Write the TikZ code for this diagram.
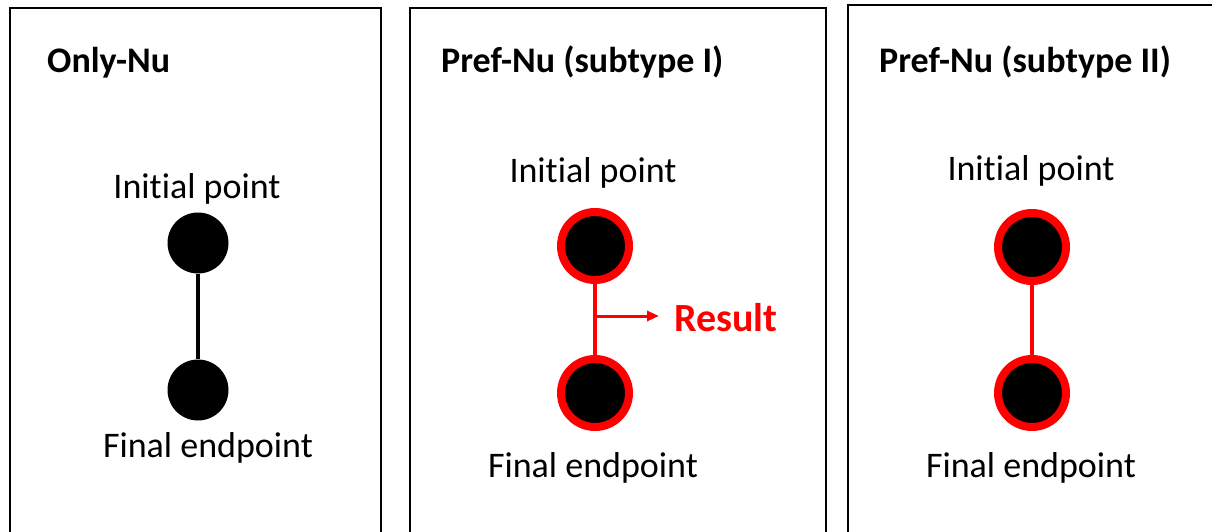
\documentclass[tikz,border=0pt]{standalone}
\usepackage{fontspec}
\setmainfont{Carlito}[RawFeature={-liga;-clig;-dlig}]
\usetikzlibrary{arrows.meta,calc}
\definecolor{hot}{RGB}{255,0,0}
\begin{document}
\begin{tikzpicture}[x=1pt,y=-1pt,
  panel/.style={draw=black,line width=1.5pt},
  title/.style={font=\fontsize{36}{43}\selectfont\bfseries,anchor=base west,inner sep=0pt},
  label/.style={font=\fontsize{36}{43}\selectfont,anchor=base,inner sep=0pt},
  dot/.style={circle,fill=black,draw=none,minimum size=61pt,inner sep=0pt},
  ringdot/.style={circle,fill=black,draw=hot,line width=8pt,minimum size=68pt,inner sep=0pt},
  link/.style={line width=3.5pt},
  redlink/.style={draw=hot,line width=3.5pt},
]
\useasboundingbox (0,0) rectangle (1212,532);
\clip (0,0) rectangle (1212,532);

% panel frames, open at the bottom edge
\draw[panel] (10,8) rectangle (381,560);
\draw[panel] (410,8) rectangle (826,560);
\draw[panel] (848,5) rectangle (1230,560);

% Only-Nu
\node[title] (t1) at (47,73) {Only-Nu};
\node[label] (i1) at (197,198) {Ini{}ti{}al point};
\node[dot] (a1) at (198,243) {};
\node[dot] (b1) at (198,390) {};
\node[label] (f1) at (208,457) {Final endpoint};
\draw[link] (a1) -- (b1);

% Pref-Nu (subtype I)
\node[title] (t2) at (441,73) {Pref-Nu (subtype I)};
\node[label] (i2) at (593,182) {Ini{}ti{}al point};
\node[ringdot] (a2) at (595,246) {};
\node[ringdot] (b2) at (595,393) {};
\node[label] (f2) at (593,477) {Final endpoint};
\draw[redlink] (a2) -- (b2);
\coordinate (m2) at (595,316);
\node[font=\fontsize{40}{48}\selectfont\bfseries,text=hot,anchor=west,inner sep=0pt] (r2) at (674,318) {Result};
\draw[redlink,line width=3pt,-{Triangle[length=12pt,width=10pt]}] (m2) -- ($(r2.west)+(-15,-2)$);

% Pref-Nu (subtype II)
\node[title] (t3) at (879,73) {Pref-Nu (subtype II)};
\node[label] (i3) at (1031,180) {Ini{}ti{}al point};
\node[ringdot] (a3) at (1032,247) {};
\node[ringdot] (b3) at (1032,393) {};
\node[label] (f3) at (1031,477) {Final endpoint};
\draw[redlink] (a3) -- (b3);
\end{tikzpicture}
\end{document}
